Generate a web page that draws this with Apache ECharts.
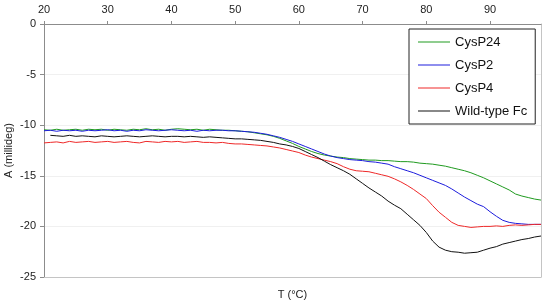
<!DOCTYPE html>
<html>
<head>
<meta charset="utf-8">
<script src="https://cdn.jsdelivr.net/npm/echarts@6/dist/echarts.min.js"></script>
<style>
  html, body { margin: 0; padding: 0; background: #fff; }
  #chart { width: 545px; height: 305px; }
</style>
</head>
<body>
<div id="chart"></div>
<script>
// temperature (°C), one reading per degree
const temps = [20, 21, 22, 23, 24, 25, 26, 27, 28, 29, 30, 31, 32, 33, 34, 35, 36, 37, 38, 39,
  40, 41, 42, 43, 44, 45, 46, 47, 48, 49, 50, 51, 52, 53, 54, 55, 56, 57, 58, 59,
  60, 61, 62, 63, 64, 65, 66, 67, 68, 69, 70, 71, 72, 73, 74, 75, 76, 77, 78, 79,
  80, 81, 82, 83, 84, 85, 86, 87, 88, 89, 90, 91, 92, 93, 94, 95, 96, 97, 98]

const seriesNames = ['CysP24', 'CysP2', 'CysP4', 'Wild-type Fc']

const cysP24 = [-10.45, -10.5, -10.4, -10.5, -10.45, -10.4, -10.5, -10.4, -10.45, -10.4,
  -10.5, -10.4, -10.45, -10.5, -10.4, -10.45, -10.35, -10.45, -10.4, -10.5,
  -10.4, -10.35, -10.4, -10.45, -10.4, -10.5, -10.4, -10.45, -10.5, -10.5,
  -10.55, -10.6, -10.65, -10.75, -10.85, -10.95, -11.1, -11.3, -11.55, -11.8,
  -12.1, -12.35, -12.6, -12.8, -12.95, -13.05, -13.15, -13.2, -13.3, -13.35,
  -13.4, -13.45, -13.45, -13.5, -13.5, -13.55, -13.6, -13.6, -13.65, -13.75,
  -13.8, -13.85, -13.95, -14.05, -14.2, -14.35, -14.5, -14.7, -14.95, -15.2,
  -15.5, -15.8, -16.1, -16.4, -16.8, -17.0, -17.15, -17.3, -17.4]

const cysP2 = [-10.55, -10.5, -10.6, -10.5, -10.55, -10.5, -10.6, -10.5, -10.55, -10.5,
  -10.45, -10.55, -10.5, -10.6, -10.5, -10.55, -10.45, -10.5, -10.55, -10.5,
  -10.45, -10.5, -10.55, -10.5, -10.6, -10.5, -10.55, -10.5, -10.5, -10.55,
  -10.55, -10.6, -10.65, -10.7, -10.8, -10.9, -11.05, -11.2, -11.4, -11.6,
  -11.85, -12.1, -12.35, -12.6, -12.85, -13.05, -13.2, -13.3, -13.4, -13.45,
  -13.5, -13.6, -13.65, -13.75, -13.85, -14.1, -14.3, -14.5, -14.7, -14.95,
  -15.2, -15.45, -15.7, -15.95, -16.3, -16.7, -17.1, -17.45, -17.8, -18.05,
  -18.55, -19.0, -19.4, -19.6, -19.7, -19.75, -19.8, -19.8, -19.8]

const cysP4 = [-11.75, -11.7, -11.65, -11.75, -11.6, -11.7, -11.65, -11.6, -11.7, -11.65,
  -11.6, -11.7, -11.65, -11.6, -11.7, -11.75, -11.6, -11.65, -11.7, -11.6,
  -11.65, -11.6, -11.7, -11.65, -11.6, -11.7, -11.7, -11.75, -11.7, -11.8,
  -11.85, -11.85, -11.9, -11.95, -12.0, -12.05, -12.15, -12.25, -12.4, -12.55,
  -12.7, -12.95, -13.15, -13.3, -13.45, -13.6, -13.8, -14.1, -14.35, -14.5,
  -14.55, -14.6, -14.75, -14.9, -15.05, -15.3, -15.6, -15.95, -16.35, -16.8,
  -17.25, -17.95, -18.6, -19.1, -19.6, -19.9, -20.0, -20.1, -20.05, -20.0,
  -20.0, -19.95, -20.0, -19.9, -19.85, -19.9, -19.85, -19.8, -19.8]

const wildType = [null, -11.0, -11.05, -11.1, -11.0, -11.1, -11.05, -11.1, -11.15, -11.05,
  -11.1, -11.15, -11.1, -11.05, -11.1, -11.15, -11.1, -11.05, -11.1, -11.15,
  -11.1, -11.1, -11.15, -11.1, -11.15, -11.2, -11.15, -11.2, -11.25, -11.3,
  -11.35, -11.35, -11.4, -11.45, -11.5, -11.6, -11.7, -11.85, -11.95, -12.1,
  -12.3, -12.6, -12.9, -13.2, -13.55, -13.9, -14.2, -14.5, -14.85, -15.3,
  -15.75, -16.2, -16.6, -17.0, -17.5, -17.9, -18.25, -18.8, -19.35, -19.9,
  -20.6, -21.45, -22.05, -22.35, -22.5, -22.55, -22.65, -22.6, -22.55, -22.35,
  -22.15, -22.0, -21.75, -21.6, -21.45, -21.3, -21.2, -21.05, -20.95]

const xTicks = { min: 20, max: 98, interval: 10 }
const yTicks = { min: -25, max: 0, interval: 5 }

const colors = ['#1f9a1f', '#1c1cdc', '#ee2828', '#111111']
const fontFamily = '"Liberation Sans", Arial, sans-serif'

function pairs(values) {
  return temps.map((t, i) => [t, values[i]])
}

const chart = echarts.init(document.getElementById('chart'), null, { renderer: 'canvas' })

chart.setOption({
  animation: false,
  color: colors,
  textStyle: { fontFamily: fontFamily },
  grid: {
    left: 44,
    top: 24,
    right: 4,
    bottom: 28,
    containLabel: false,
    outerBoundsMode: 'none'
  },
  legend: {
    orient: 'vertical',
    left: 409,
    top: 29,
    width: 128,
    backgroundColor: '#fff',
    borderColor: '#222',
    borderWidth: 1,
    padding: [6, 8, 6, 9],
    itemGap: 9,
    itemWidth: 32,
    itemHeight: 1,
    icon: 'rect',
    data: seriesNames,
    textStyle: { fontSize: 13, color: '#111', lineHeight: 14, fontFamily: fontFamily }
  },
  xAxis: [
    {
      type: 'value',
      position: 'top',
      min: xTicks.min,
      max: xTicks.max,
      interval: xTicks.interval,
      axisLine: { onZero: false, lineStyle: { color: '#8c8c8c' } },
      axisTick: { show: true, inside: false, length: 3, lineStyle: { color: '#8c8c8c' } },
      axisLabel: { fontSize: 11, color: '#222', margin: 9, showMaxLabel: false },
      splitLine: { show: false }
    },
    {
      type: 'value',
      position: 'bottom',
      min: xTicks.min,
      max: xTicks.max,
      name: 'T (°C)',
      nameLocation: 'middle',
      nameGap: 12,
      nameMoveOverlap: false,
      nameTextStyle: { fontSize: 11, color: '#222' },
      axisLine: { onZero: false, lineStyle: { color: '#c4c4c4' } },
      axisTick: { show: false },
      axisLabel: { show: false },
      splitLine: { show: false }
    }
  ],
  yAxis: [
    {
      type: 'value',
      min: yTicks.min,
      max: yTicks.max,
      interval: yTicks.interval,
      name: 'A (millideg)',
      nameLocation: 'middle',
      nameGap: 30,
      nameMoveOverlap: false,
      nameTextStyle: { fontSize: 11, color: '#222' },
      axisLine: { show: true, onZero: false, lineStyle: { color: '#8c8c8c' } },
      axisTick: { show: true, inside: false, length: 4, lineStyle: { color: '#8c8c8c' } },
      axisLabel: { fontSize: 11, color: '#222', margin: 8 },
      splitLine: { show: true, lineStyle: { color: '#f0f0f0', width: 1 } }
    },
    {
      type: 'value',
      position: 'right',
      min: yTicks.min,
      max: yTicks.max,
      axisLine: { show: true, onZero: false, lineStyle: { color: '#c4c4c4' } },
      axisTick: { show: false },
      axisLabel: { show: false },
      splitLine: { show: false }
    }
  ],
  series: [
    { name: seriesNames[0], type: 'line', data: pairs(cysP24) },
    { name: seriesNames[1], type: 'line', data: pairs(cysP2) },
    { name: seriesNames[2], type: 'line', data: pairs(cysP4) },
    { name: seriesNames[3], type: 'line', data: pairs(wildType) }
  ].map(s => Object.assign(s, {
    xAxisIndex: 0,
    yAxisIndex: 0,
    showSymbol: false,
    symbol: 'none',
    connectNulls: false,
    lineStyle: { width: 1 }
  }))
})
</script>
</body>
</html>
